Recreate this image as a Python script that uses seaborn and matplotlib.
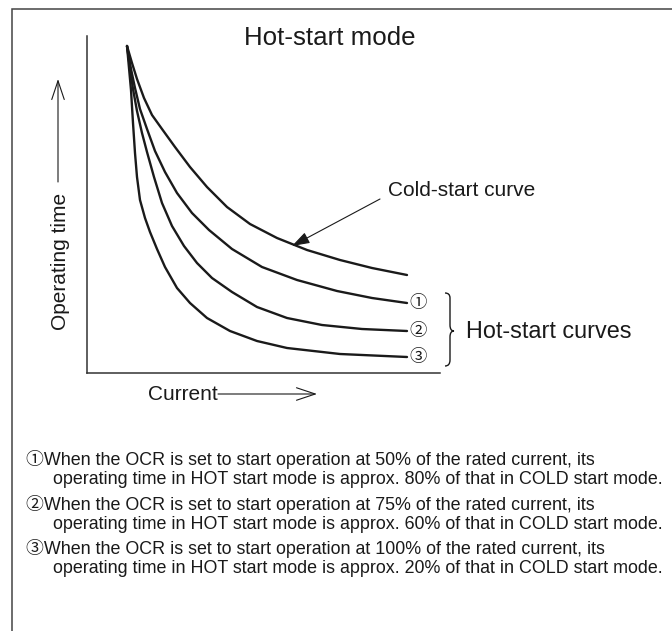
import matplotlib
matplotlib.use("Agg")
import matplotlib.pyplot as plt
from matplotlib.path import Path
from matplotlib.patches import PathPatch, Rectangle
import seaborn as sns
import pandas as pd

# Curve readings (current, operating time) in arbitrary units
cold_x = [40, 45, 50, 57, 65, 75, 88, 103, 120, 140, 163, 190, 220, 253, 285, 320]
cold_y = [327, 310, 294, 275, 258, 244, 226, 206, 186, 166, 149, 135, 123, 113, 105, 98]

hot1_x = [40, 44, 48, 53, 60, 68, 78, 90, 105, 122, 145, 175, 210, 250, 285, 320]
hot1_y = [327, 304, 285, 264, 244, 222, 201, 180, 160, 143, 124, 106, 93, 82, 75, 70]

hot2_x = [40, 43, 46, 50, 55, 60, 67, 75, 85, 97, 110, 125, 145, 170, 200, 235, 275, 320]
hot2_y = [327, 305, 284, 262, 240, 221, 196, 170, 147, 127, 110, 95, 81, 66, 55, 48, 44, 42]

hot3_x = [40, 42, 44, 46, 48, 50, 53, 58, 63, 70, 78, 90, 103, 120, 143, 170, 200, 253, 320]
hot3_y = [327, 305, 283, 250, 220, 196, 173, 155, 141, 124, 106, 85, 70, 55, 42, 32, 25, 19, 16]

curve_names = ["cold", "1", "2", "3"]
curve_marks = ["①", "②", "③"]

notes = [
    ("①When the OCR is set to start operation at 50% of the rated current, its",
     "operating time in HOT start mode is approx. 80% of that in COLD start mode."),
    ("②When the OCR is set to start operation at 75% of the rated current, its",
     "operating time in HOT start mode is approx. 60% of that in COLD start mode."),
    ("③When the OCR is set to start operation at 100% of the rated current, its",
     "operating time in HOT start mode is approx. 20% of that in COLD start mode."),
]

W, H = 672, 631


def px(x, y):
    # pixel position (from top-left) -> figure fraction
    return x / W, 1 - y / H


sns.set_style("white")
plt.rcParams["font.family"] = ["Liberation Sans", "Noto Sans CJK JP", "DejaVu Sans"]
ink = "#1a1a1a"

fig = plt.figure(figsize=(W / 100, H / 100), dpi=100)
ax = fig.add_axes([87 / W, 1 - 373 / H, (440 - 87) / W, (373 - 36) / H])

df = pd.concat([
    pd.DataFrame({"current": cold_x, "time": cold_y, "curve": "cold"}),
    pd.DataFrame({"current": hot1_x, "time": hot1_y, "curve": "1"}),
    pd.DataFrame({"current": hot2_x, "time": hot2_y, "curve": "2"}),
    pd.DataFrame({"current": hot3_x, "time": hot3_y, "curve": "3"}),
])
sns.lineplot(data=df, x="current", y="time", hue="curve", hue_order=curve_names,
             palette=[ink] * 4, sort=False, estimator=None, linewidth=1.7,
             legend=False, ax=ax)

ax.set_xlim(0, 353)
ax.set_ylim(0, 337)
ax.set_xticks([])
ax.set_yticks([])
ax.set_xlabel("")
ax.set_ylabel("")
sns.despine(ax=ax)
for s in ["left", "bottom"]:
    ax.spines[s].set_color("#333333")
    ax.spines[s].set_linewidth(1.1)

# end labels of hot-start curves
for mark, ys in zip(curve_marks, [hot1_y, hot2_y, hot3_y]):
    ax.text(322, ys[-1], mark, ha="left", va="center", fontsize=12.5, color=ink)

# cold-start label with arrow
ax.text(301, 183, "Cold-start curve", ha="left", va="center", fontsize=15, color=ink)
ax.annotate("", xy=(205, 127), xytext=(293, 174),
            arrowprops=dict(arrowstyle="-|>,head_length=0.6,head_width=0.2",
                            lw=0.8, color=ink, mutation_scale=18,
                            shrinkA=0, shrinkB=0))

# brace for hot-start curves
brace = [(445, 293), (450, 293), (450, 298), (450, 325), (450, 331), (454, 331),
         (450, 331), (450, 337), (450, 360), (450, 366), (445, 366)]
codes = [Path.MOVETO, Path.CURVE3, Path.CURVE3, Path.LINETO, Path.CURVE3, Path.CURVE3,
         Path.CURVE3, Path.CURVE3, Path.LINETO, Path.CURVE3, Path.CURVE3]
fig.add_artist(PathPatch(Path([px(*p) for p in brace], codes), fill=False,
                         lw=1.0, edgecolor=ink, transform=fig.transFigure))
fig.text(*px(466, 331), "Hot-start curves", ha="left", va="center", fontsize=16.8, color=ink)

# title
fig.text(*px(330, 38), "Hot-start mode", ha="center", va="center", fontsize=18.6, color=ink)

# axis captions with arrows
fig.text(*px(60, 330), "Operating time", rotation=90, rotation_mode="anchor",
         ha="left", va="center", fontsize=15, color=ink)
arrow_style = dict(arrowstyle="->,head_length=0.9,head_width=0.3", lw=0.8,
                   color=ink, mutation_scale=15, shrinkA=0, shrinkB=0)
ax.annotate("", xy=px(58, 79), xytext=px(58, 182), xycoords="figure fraction",
            textcoords="figure fraction", arrowprops=arrow_style)
fig.text(*px(148, 395), "Current", ha="left", va="center", fontsize=15, color=ink)
ax.annotate("", xy=px(317, 394), xytext=px(218, 394), xycoords="figure fraction",
            textcoords="figure fraction", arrowprops=arrow_style)

# notes under the chart
baselines = [465, 484, 510, 529, 554, 573]
for i, (first, second) in enumerate(notes):
    fig.text(*px(26, baselines[2 * i]), first, ha="left", va="baseline",
             fontsize=12.85, color=ink)
    fig.text(*px(53, baselines[2 * i + 1]), second, ha="left", va="baseline",
             fontsize=12.85, color=ink)

# frame around the figure (left and top edges visible)
fig.add_artist(Rectangle(px(12, 700), (700 - 12) / W, (700 - 9) / H, fill=False,
                         lw=1.1, edgecolor="#444444", transform=fig.transFigure))

fig.savefig("out.png", dpi=100)
